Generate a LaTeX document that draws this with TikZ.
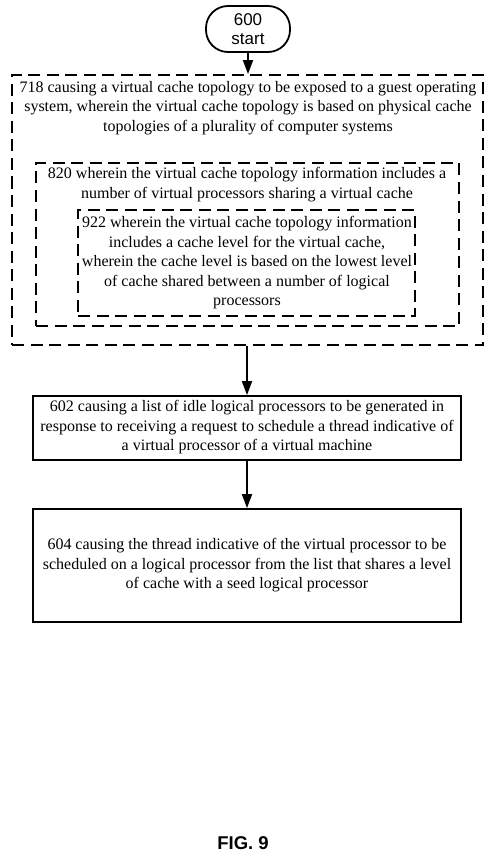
\documentclass[tikz,border=0pt]{standalone}
\usepackage{fontspec}
\setmainfont{Liberation Serif}
\newfontfamily\arialf{Liberation Sans}
\usetikzlibrary{arrows.meta}
\tikzset{
  line/.style={line width=1.8pt},
  dbox/.style={line, draw, dash pattern=on 12pt off 6.5pt, inner sep=0pt},
  sbox/.style={line, draw, inner sep=0pt},
  txt/.style={align=center, inner sep=0pt, font=\fontsize{16}{19.5}\selectfont},
  arr/.style={line, -{Triangle[width=10pt,length=14pt]}},
}
\begin{document}
\begin{tikzpicture}[x=1pt,y=-1pt]
\useasboundingbox[fill=white] (0,0) rectangle (490,853);
\node[sbox, rounded corners=22pt, minimum width=84pt, minimum height=46pt,
      align=center, font=\arialf\fontsize{17}{19}\selectfont] (start) at (248,29) {600\\start};
\node[dbox, minimum width=471pt, minimum height=270pt] (outer) at (247.5,210) {};
\node[txt] (t718) at (248,108) {718 causing a virtual cache topology to be exposed to a guest operating\\system, wherein the virtual cache topology is based on physical cache\\topologies of a plurality of computer systems};
\node[dbox, minimum width=423pt, minimum height=163pt] (mid) at (247.5,244.5) {};
\node[txt] (t820) at (247,184.5) {820 wherein the virtual cache topology information includes a\\number of virtual processors sharing a virtual cache};
\node[dbox, minimum width=337pt, minimum height=106pt] (inner) at (246.5,263) {};
\node[txt] (t922) at (247,263) {922 wherein the virtual cache topology information\\includes a cache level for the virtual cache,\\wherein the cache level is based on the lowest level\\of cache shared between a number of logical\\processors};
\node[sbox, minimum width=428pt, minimum height=64pt] (b602) at (247,428) {};
\node[txt] (t602) at (247,427.5) {602 causing a list of idle logical processors to be generated in\\response to receiving a request to schedule a thread indicative of\\a virtual processor of a virtual machine};
\node[sbox, minimum width=428pt, minimum height=113pt] (b604) at (247,565.5) {};
\node[txt] (t604) at (247,565.5) {604 causing the thread indicative of the virtual processor to be\\scheduled on a logical processor from the list that shares a level\\of cache with a seed logical processor};
\node[font=\arialf\bfseries\fontsize{18.5}{20}\selectfont, inner sep=0pt] (fig) at (243,843) {FIG. 9};
\draw[arr] (start.south) -- (start.south |- outer.north);
\draw[arr] (outer.south -| b602.north) -- (b602.north);
\draw[arr] (b602.south) -- (b604.north);
\end{tikzpicture}
\end{document}
